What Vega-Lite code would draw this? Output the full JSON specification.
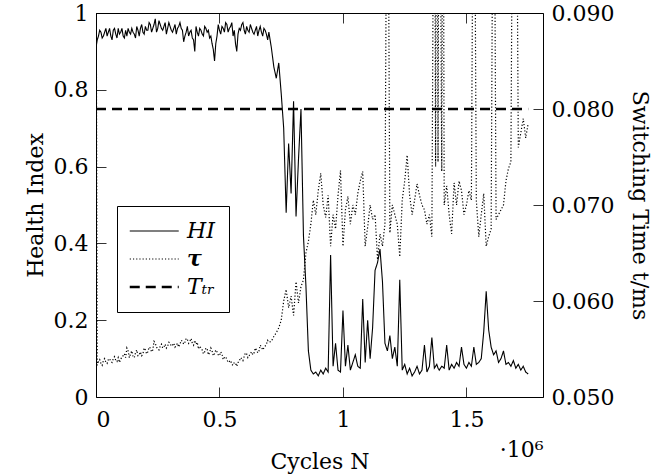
{
  "$schema": "https://vega.github.io/schema/vega-lite/v6.json",
  "width": 447,
  "height": 384,
  "autosize": {"type": "none"},
  "padding": {"left": 96, "top": 13, "right": 129, "bottom": 78},
  "background": "white",
  "config": {
    "view": {"stroke": "black", "strokeWidth": 1},
    "font": "DejaVu Serif",
    "axis": {"domain": false, "grid": false, "tickColor": "black", "tickWidth": 0.8, "labelFont": "DejaVu Serif", "titleFont": "DejaVu Serif", "labelFontSize": 22, "titleFontSize": 22, "labelColor": "black", "titleColor": "black", "titleFontWeight": "normal", "tickSize": -10, "labelPadding": 18}
  },
  "datasets": {
    "m": [
      {"c":0,"h":0.91,"t":0.1},{"c":5000,"h":0.93,"t":0.0533},{"c":10000,"h":0.94,"t":0.0537},{"c":15000,"h":0.955,"t":0.0539},{"c":20000,"h":0.95,"t":0.0535},
      {"c":25000,"h":0.935,"t":0.0533},{"c":30000,"h":0.94,"t":0.0538},{"c":35000,"h":0.95,"t":0.054},{"c":40000,"h":0.96,"t":0.0536},{"c":45000,"h":0.94,"t":0.0535},
      {"c":50000,"h":0.95,"t":0.0539},{"c":55000,"h":0.96,"t":0.054},{"c":60000,"h":0.94,"t":0.0537},{"c":65000,"h":0.93,"t":0.0536},{"c":70000,"h":0.955,"t":0.054},
      {"c":75000,"h":0.96,"t":0.0542},{"c":80000,"h":0.945,"t":0.0538},{"c":85000,"h":0.935,"t":0.0537},{"c":90000,"h":0.96,"t":0.0541},{"c":95000,"h":0.945,"t":0.0536},
      {"c":100000,"h":0.95,"t":0.0539},{"c":105000,"h":0.96,"t":0.0542},{"c":110000,"h":0.94,"t":0.0543},{"c":115000,"h":0.935,"t":0.0545},{"c":120000,"h":0.955,"t":0.0541},
      {"c":125000,"h":0.94,"t":0.0551},{"c":130000,"h":0.96,"t":0.0548},{"c":135000,"h":0.95,"t":0.0541},{"c":140000,"h":0.945,"t":0.0545},{"c":145000,"h":0.96,"t":0.0548},
      {"c":150000,"h":0.95,"t":0.0542},{"c":155000,"h":0.945,"t":0.0541},{"c":160000,"h":0.935,"t":0.0546},{"c":165000,"h":0.965,"t":0.0549},{"c":170000,"h":0.955,"t":0.0543},
      {"c":175000,"h":0.94,"t":0.0544},{"c":180000,"h":0.96,"t":0.0547},{"c":185000,"h":0.97,"t":0.0543},{"c":190000,"h":0.95,"t":0.0545},{"c":195000,"h":0.945,"t":0.0551},
      {"c":200000,"h":0.965,"t":0.0549},{"c":205000,"h":0.955,"t":0.0545},{"c":210000,"h":0.955,"t":0.0547},{"c":215000,"h":0.975,"t":0.0552},{"c":220000,"h":0.97,"t":0.0551},
      {"c":225000,"h":0.95,"t":0.0547},{"c":230000,"h":0.96,"t":0.0549},{"c":235000,"h":0.97,"t":0.0558},{"c":240000,"h":0.985,"t":0.0556},{"c":245000,"h":0.95,"t":0.0552},
      {"c":250000,"h":0.96,"t":0.055},{"c":255000,"h":0.98,"t":0.0549},{"c":260000,"h":0.97,"t":0.0553},{"c":265000,"h":0.96,"t":0.0555},{"c":270000,"h":0.955,"t":0.0551},
      {"c":275000,"h":0.965,"t":0.0552},{"c":280000,"h":0.975,"t":0.0555},{"c":285000,"h":0.945,"t":0.0551},{"c":290000,"h":0.96,"t":0.0553},{"c":295000,"h":0.975,"t":0.0557},
      {"c":300000,"h":0.965,"t":0.0556},{"c":305000,"h":0.955,"t":0.0553},{"c":310000,"h":0.95,"t":0.0554},{"c":315000,"h":0.96,"t":0.0556},{"c":320000,"h":0.97,"t":0.0552},
      {"c":325000,"h":0.945,"t":0.0554},{"c":330000,"h":0.96,"t":0.0556},{"c":335000,"h":0.965,"t":0.0552},{"c":340000,"h":0.975,"t":0.0555},{"c":345000,"h":0.96,"t":0.0559},
      {"c":350000,"h":0.955,"t":0.0558},{"c":355000,"h":0.925,"t":0.0555},{"c":360000,"h":0.94,"t":0.0557},{"c":365000,"h":0.95,"t":0.0561},{"c":370000,"h":0.965,"t":0.056},
      {"c":375000,"h":0.94,"t":0.0556},{"c":380000,"h":0.95,"t":0.0558},{"c":385000,"h":0.955,"t":0.0561},{"c":390000,"h":0.935,"t":0.0556},{"c":395000,"h":0.93,"t":0.0554},
      {"c":400000,"h":0.9,"t":0.0559},{"c":405000,"h":0.965,"t":0.0555},{"c":410000,"h":0.95,"t":0.0557},{"c":415000,"h":0.94,"t":0.055},{"c":420000,"h":0.96,"t":0.0553},
      {"c":425000,"h":0.955,"t":0.0551},{"c":430000,"h":0.945,"t":0.0549},{"c":435000,"h":0.94,"t":0.0545},{"c":440000,"h":0.965,"t":0.0547},{"c":445000,"h":0.96,"t":0.0551},
      {"c":450000,"h":0.95,"t":0.055},{"c":455000,"h":0.955,"t":0.0544},{"c":460000,"h":0.935,"t":0.0546},{"c":465000,"h":0.94,"t":0.0551},{"c":470000,"h":0.92,"t":0.0548},
      {"c":475000,"h":0.905,"t":0.0543},{"c":480000,"h":0.875,"t":0.0545},{"c":485000,"h":0.92,"t":0.0549},{"c":490000,"h":0.94,"t":0.0547},{"c":495000,"h":0.97,"t":0.0544},
      {"c":500000,"h":0.955,"t":0.0543},{"c":505000,"h":0.945,"t":0.0547},{"c":510000,"h":0.965,"t":0.0545},{"c":515000,"h":0.96,"t":0.0539},{"c":520000,"h":0.95,"t":0.0541},
      {"c":525000,"h":0.975,"t":0.0542},{"c":530000,"h":0.97,"t":0.0539},{"c":535000,"h":0.95,"t":0.0536},{"c":540000,"h":0.96,"t":0.0537},{"c":545000,"h":0.965,"t":0.0538},
      {"c":550000,"h":0.975,"t":0.0534},{"c":555000,"h":0.94,"t":0.0533},{"c":560000,"h":0.955,"t":0.0536},{"c":565000,"h":0.92,"t":0.0535},{"c":570000,"h":0.9,"t":0.0532},
      {"c":575000,"h":0.945,"t":0.0536},{"c":580000,"h":0.96,"t":0.0537},{"c":585000,"h":0.955,"t":0.0541},{"c":590000,"h":0.97,"t":0.054},{"c":595000,"h":0.975,"t":0.0538},
      {"c":600000,"h":0.955,"t":0.0542},{"c":605000,"h":0.945,"t":0.0546},{"c":610000,"h":0.965,"t":0.0545},{"c":615000,"h":0.955,"t":0.0541},{"c":620000,"h":0.95,"t":0.0543},
      {"c":625000,"h":0.97,"t":0.0545},{"c":630000,"h":0.96,"t":0.0547},{"c":635000,"h":0.95,"t":0.0544},{"c":640000,"h":0.945,"t":0.0546},{"c":645000,"h":0.955,"t":0.0551},
      {"c":650000,"h":0.965,"t":0.0549},{"c":655000,"h":0.94,"t":0.0546},{"c":660000,"h":0.955,"t":0.0548},{"c":665000,"h":0.965,"t":0.0554},{"c":670000,"h":0.95,"t":0.0552},
      {"c":675000,"h":0.94,"t":0.0549},{"c":680000,"h":0.96,"t":0.0551},{"c":685000,"h":0.955,"t":0.0553},{"c":690000,"h":0.945,"t":0.0555},{"c":695000,"h":0.93,"t":0.0559},
      {"c":700000,"h":0.95,"t":0.0557},{"c":710000,"h":0.91,"t":0.0558},{"c":720000,"h":0.86,"t":0.0563},{"c":730000,"h":0.83,"t":0.0567},{"c":740000,"h":0.87,"t":0.0572},
      {"c":750000,"h":0.79,"t":0.058},{"c":760000,"h":0.7,"t":0.06},{"c":770000,"h":0.48,"t":0.0612},{"c":780000,"h":0.66,"t":0.0593},{"c":790000,"h":0.53,"t":0.0605},
      {"c":800000,"h":0.77,"t":0.0585},{"c":810000,"h":0.47,"t":0.062},{"c":820000,"h":0.62,"t":0.0598},{"c":830000,"h":0.75,"t":0.0615},{"c":840000,"h":0.42,"t":0.0622},
      {"c":850000,"h":0.29,"t":0.065},{"c":860000,"h":0.12,"t":0.0662},{"c":870000,"h":0.07,"t":0.068},{"c":880000,"h":0.06,"t":0.0705},{"c":890000,"h":0.065,"t":0.069},
      {"c":900000,"h":0.055,"t":0.0715},{"c":910000,"h":0.07,"t":0.0733},{"c":920000,"h":0.06,"t":0.07},{"c":930000,"h":0.075,"t":0.0687},{"c":940000,"h":0.065,"t":0.071},
      {"c":950000,"h":0.37,"t":0.0657},{"c":960000,"h":0.08,"t":0.069},{"c":970000,"h":0.14,"t":0.0675},{"c":980000,"h":0.07,"t":0.071},{"c":990000,"h":0.065,"t":0.0736},
      {"c":1000000,"h":0.225,"t":0.0657},{"c":1010000,"h":0.08,"t":0.0695},{"c":1020000,"h":0.135,"t":0.0709},{"c":1030000,"h":0.07,"t":0.068},{"c":1040000,"h":0.09,"t":0.07},
      {"c":1050000,"h":0.11,"t":0.069},{"c":1060000,"h":0.08,"t":0.0712},{"c":1070000,"h":0.075,"t":0.0725},{"c":1080000,"h":0.255,"t":0.0735},{"c":1090000,"h":0.09,"t":0.0657},
      {"c":1100000,"h":0.2,"t":0.0677},{"c":1110000,"h":0.1,"t":0.07},{"c":1120000,"h":0.18,"t":0.0685},{"c":1130000,"h":0.33,"t":0.069},{"c":1140000,"h":0.35,"t":0.0643},
      {"c":1150000,"h":0.385,"t":0.067},{"c":1160000,"h":0.3,"t":0.0657},{"c":1170000,"h":0.14,"t":0.068},{"c":1180000,"h":0.12,"t":0.12},{"c":1190000,"h":0.16,"t":0.0671},
      {"c":1200000,"h":0.1,"t":0.07},{"c":1210000,"h":0.13,"t":0.069},{"c":1220000,"h":0.08,"t":0.068},{"c":1230000,"h":0.305,"t":0.0646},{"c":1240000,"h":0.07,"t":0.0705},
      {"c":1250000,"h":0.085,"t":0.0725},{"c":1260000,"h":0.06,"t":0.0752},{"c":1270000,"h":0.075,"t":0.071},{"c":1280000,"h":0.055,"t":0.069},{"c":1290000,"h":0.065,"t":0.0705},
      {"c":1300000,"h":0.08,"t":0.0722},{"c":1310000,"h":0.06,"t":0.071},{"c":1320000,"h":0.07,"t":0.07},{"c":1330000,"h":0.135,"t":0.0695},{"c":1340000,"h":0.065,"t":0.068},
      {"c":1350000,"h":0.08,"t":0.069},{"c":1360000,"h":0.155,"t":0.0667},{"c":1370000,"h":0.075,"t":0.12},{"c":1375000,"h":0.08,"t":0.074},{"c":1380000,"h":0.085,"t":0.12},
      {"c":1385000,"h":0.075,"t":0.0745},{"c":1390000,"h":0.07,"t":0.12},{"c":1400000,"h":0.08,"t":0.0735},{"c":1405000,"h":0.078,"t":0.12},{"c":1410000,"h":0.075,"t":0.07},
      {"c":1420000,"h":0.135,"t":0.072},{"c":1430000,"h":0.07,"t":0.069},{"c":1440000,"h":0.085,"t":0.067},{"c":1450000,"h":0.075,"t":0.0723},{"c":1460000,"h":0.09,"t":0.07},
      {"c":1470000,"h":0.08,"t":0.0725},{"c":1480000,"h":0.13,"t":0.0715},{"c":1490000,"h":0.085,"t":0.069},{"c":1500000,"h":0.075,"t":0.07},{"c":1510000,"h":0.09,"t":0.0715},
      {"c":1520000,"h":0.08,"t":0.0705},{"c":1530000,"h":0.13,"t":0.12},{"c":1540000,"h":0.085,"t":0.0705},{"c":1550000,"h":0.09,"t":0.0667},{"c":1560000,"h":0.1,"t":0.069},
      {"c":1570000,"h":0.17,"t":0.0712},{"c":1580000,"h":0.275,"t":0.0657},{"c":1590000,"h":0.175,"t":0.0667},{"c":1600000,"h":0.13,"t":0.0675},{"c":1610000,"h":0.11,"t":0.12},
      {"c":1620000,"h":0.12,"t":0.0685},{"c":1630000,"h":0.09,"t":0.069},{"c":1640000,"h":0.1,"t":0.0695},{"c":1650000,"h":0.12,"t":0.07},{"c":1660000,"h":0.085,"t":0.0725},
      {"c":1670000,"h":0.09,"t":0.0738},{"c":1680000,"h":0.08,"t":0.0745},{"c":1690000,"h":0.095,"t":0.12},{"c":1700000,"h":0.075,"t":0.12},{"c":1710000,"h":0.085,"t":0.076},
      {"c":1720000,"h":0.07,"t":0.0775},{"c":1730000,"h":0.08,"t":0.079},{"c":1740000,"h":0.065,"t":0.077},{"c":1750000,"h":0.06,"t":0.0785}
    ],
    "thr": [{"c":0,"v":0.75},{"c":1750000,"v":0.75}]
  },
  "layer": [
    {
      "data": {"name": "m"},
      "mark": {"type": "line", "stroke": "black", "strokeWidth": 1.1, "clip": true},
      "encoding": {
        "x": {"field": "c", "type": "quantitative", "scale": {"domain": [0, 1810000], "nice": false, "zero": false},
              "axis": {"orient": "bottom", "values": [0, 500000, 1000000, 1500000], "labelExpr": "datum.value / 1000000", "title": "Cycles N", "titlePadding": 21, "labelPadding": 22}},
        "y": {"field": "h", "type": "quantitative", "scale": {"domain": [0, 1], "nice": false},
              "axis": {"orient": "left", "values": [0, 0.2, 0.4, 0.6, 0.8, 1], "format": "~g", "title": "Health Index", "titlePadding": 6}},
        "strokeDash": {"datum": "HI", "type": "nominal",
          "scale": {"domain": ["HI", "τ", "Tₜᵣ"], "range": [[1, 0], [1.2, 2], [10, 6]]},
          "legend": {"orient": "none", "legendX": 21, "legendY": 193, "title": null, "strokeColor": "black", "fillColor": "white", "padding": 14, "cornerRadius": 0,
            "symbolType": "M-1,0H3", "symbolSize": 600, "symbolStrokeColor": "black", "symbolFillColor": "transparent", "symbolStrokeWidth": 1.2,
            "labelFont": "DejaVu Serif", "labelFontSize": 22, "labelFontStyle": "italic", "labelColor": "black", "labelOffset": 34, "rowPadding": 6, "labelLimit": 200,
            "encode": {"symbols": {"update": {"strokeWidth": {"signal": "datum.value === 'Tₜᵣ' ? 2.6 : 1.2"}}},
                       "labels": {"update": {"fontWeight": {"signal": "datum.value === 'τ' ? 'bold' : 'normal'"}}}}}}
      }
    },
    {
      "data": {"name": "m"},
      "mark": {"type": "line", "stroke": "black", "strokeWidth": 1.2, "clip": true},
      "encoding": {
        "x": {"field": "c", "type": "quantitative", "scale": {"domain": [0, 1810000], "nice": false, "zero": false},
              "axis": {"orient": "top", "values": [0, 500000, 1000000, 1500000], "labels": false, "title": null}},
        "y": {"field": "t", "type": "quantitative", "scale": {"domain": [0.05, 0.09], "nice": false, "zero": false},
              "axis": {"orient": "right", "values": [0.05, 0.06, 0.07, 0.08, 0.09], "format": ".3f", "title": "Switching Time t/ms", "titlePadding": 14}},
        "strokeDash": {"datum": "τ", "type": "nominal"}
      }
    },
    {
      "data": {"name": "thr"},
      "mark": {"type": "line", "stroke": "black", "strokeWidth": 2.6},
      "encoding": {
        "x": {"field": "c", "type": "quantitative", "scale": {"domain": [0, 1810000], "nice": false, "zero": false},
              "axis": {"orient": "bottom", "labels": false, "ticks": false, "title": "·10⁶", "titleAnchor": "end", "titlePadding": 42}},
        "y": {"field": "v", "type": "quantitative", "scale": {"domain": [0, 1], "nice": false}, "axis": null},
        "strokeDash": {"datum": "Tₜᵣ", "type": "nominal"}
      }
    }
  ],
  "resolve": {"scale": {"y": "independent"}, "axis": {"x": "independent", "y": "independent"}}
}
